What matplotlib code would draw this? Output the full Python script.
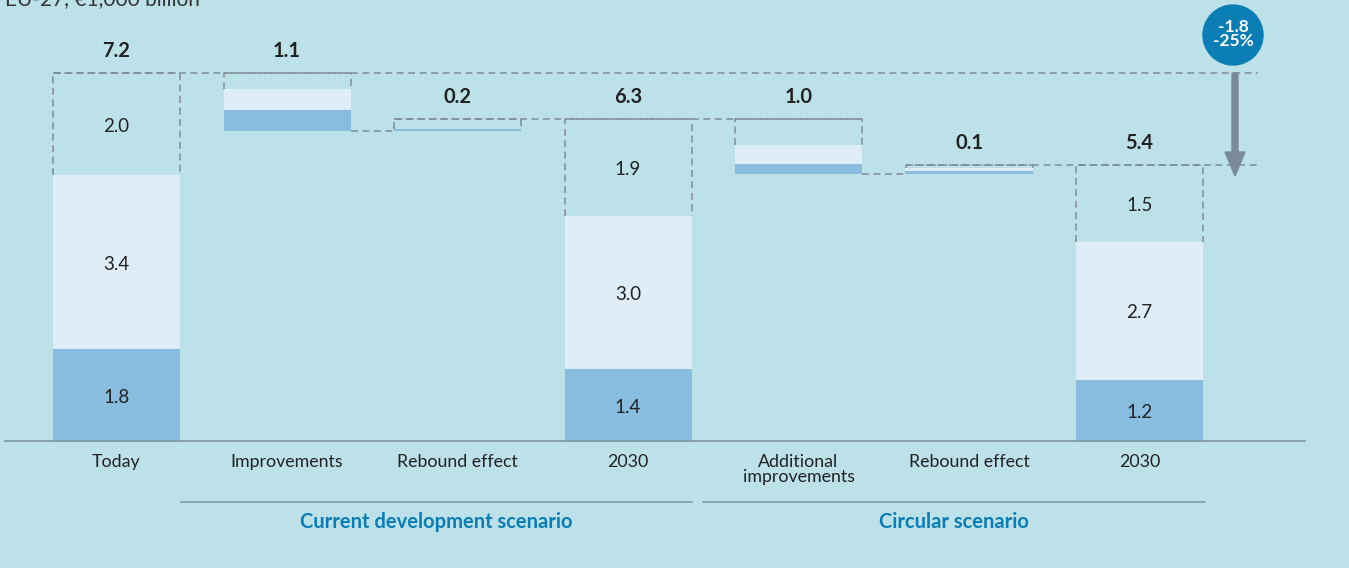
import matplotlib
matplotlib.use("Agg")
import matplotlib.pyplot as plt
from matplotlib import patches

# ---- data ----
categories = ["Today", "Improvements", "Rebound effect", "2030",
              "Additional\nimprovements", "Rebound effect", "2030"]
kinds = ["total", "down", "up", "total", "down", "up", "total"]
# segments: dark, light, dashed (other)
dark_vals   = [1.8, 0.41, 0.04, 1.4, 0.21, 0.06, 1.2]
light_vals  = [3.4, 0.41, 0.0,  3.0, 0.37, 0.06, 2.7]
other_vals  = [2.0, 0.31, 0.19, 1.9, 0.50, 0.06, 1.5]
seg_labels = [["1.8", "3.4", "2.0"], None, None, ["1.4", "3.0", "1.9"],
              None, None, ["1.2", "2.7", "1.5"]]
total_labels = ["7.2", "1.1", "0.2", "6.3", "1.0", "0.1", "5.4"]
groups = ["Current development scenario", "Circular scenario"]
change_label = "-1.8\n-25%"
unit_title = "EU-27, €1,000 billion"

# ---- style ----
BG = "#bce1e9"
DARK = "#88bddf"
LIGHT = "#deedf8"
DASH = "#7f8d95"
BLUE = "#0a7db5"
TXT = "#222222"
plt.rcParams['font.family'] = ['Lato', 'DejaVu Sans']

W, H = 1349, 568
fig = plt.figure(figsize=(W / 100, H / 100), dpi=100, facecolor=BG)
ax = fig.add_axes([0, 0, 1, 1])
ax.set_facecolor(BG)
x0px, dxpx = 116.5, 170.5
y0px, sc = 441, 51.1
ax.set_xlim(-x0px / dxpx, (W - x0px) / dxpx)
ax.set_ylim(-(H - y0px) / sc, y0px / sc)
ax.axis("off")

bw = 127 / dxpx
hw = bw / 2
dash_kw = dict(color=DASH, lw=1.1, ls=(0, (4.5, 3)))

level = 0.0
bottoms = []
tops = []
for i, k in enumerate(kinds):
    d, l, o = dark_vals[i], light_vals[i], other_vals[i]
    tot = d + l + o
    if k == "total":
        b = 0.0
        level = tot
    elif k == "down":
        b = level - tot
        level = b
    else:
        b = level
        level = b + tot
    bottoms.append(b)
    tops.append(b + tot)
    yb = b + d + l
    yt = b + tot
    ax.plot([i - hw, i - hw, i + hw, i + hw], [yb, yt, yt, yb], **dash_kw, zorder=2)
    ax.bar(i, d, bw, bottom=b, color=DARK, zorder=3)
    if l > 0:
        ax.bar(i, l, bw, bottom=b + d, color=LIGHT, zorder=3)
    if seg_labels[i]:
        for val, lo, hi in zip(seg_labels[i], [b, b + d, b + d + l], [b + d, b + d + l, yt]):
            ax.text(i, (lo + hi) / 2 - 2 / sc, val, ha="center", va="center",
                    fontsize=13.5, color=TXT, zorder=4)
    ax.text(i, yt + 22 / sc, total_labels[i], ha="center", va="center", fontsize=14.5,
            fontweight="bold", color=TXT, zorder=4)

# horizontal connectors
xa = (1258 - x0px) / dxpx
ax.plot([0 - hw, xa], [tops[0], tops[0]], **dash_kw, zorder=2)
ax.plot([2 - hw, 4 + hw], [tops[3], tops[3]], **dash_kw, zorder=2)
ax.plot([5 - hw, xa], [tops[6], tops[6]], **dash_kw, zorder=2)
ax.plot([1 + hw, 2 - hw], [bottoms[1], bottoms[1]], **dash_kw, zorder=2)
ax.plot([4 + hw, 5 - hw], [bottoms[4], bottoms[4]], **dash_kw, zorder=2)

# baseline
ax.plot([(5 - x0px) / dxpx, (1305 - x0px) / dxpx], [0, 0], color="#7d95a0", lw=1.2, zorder=5)

# category labels
for i, c in enumerate(categories):
    ax.text(i, -13 / sc, c, ha="center", va="top", fontsize=12.8, color=TXT, linespacing=0.95)

# group lines and labels
gy = -(502 - y0px) / sc
ax.plot([(181 - x0px) / dxpx, (692 - x0px) / dxpx], [gy, gy], color="#7d95a0", lw=1.1)
ax.plot([(703 - x0px) / dxpx, (1205 - x0px) / dxpx], [gy, gy], color="#7d95a0", lw=1.1)
ly = -(522 - y0px) / sc
ax.text(((181 + 692) / 2 - x0px) / dxpx, ly, groups[0], ha="center", va="center",
        fontsize=14.5, fontweight="bold", color=BLUE)
ax.text(((703 + 1205) / 2 - x0px) / dxpx, ly, groups[1], ha="center", va="center",
        fontsize=14.5, fontweight="bold", color=BLUE)

# arrow
axx = (1235 - x0px) / dxpx
y_start = (y0px - 73) / sc
y_tip = (y0px - 176) / sc
arr = patches.FancyArrow(axx, y_start, 0, y_tip - y_start, width=6 / dxpx,
                         head_width=20 / dxpx, head_length=24 / sc,
                         length_includes_head=True, color="#7a8a96", zorder=6)
ax.add_patch(arr)

# circle badge
cx, cy = (1233 - x0px) / dxpx, (y0px - 35) / sc
ax.add_patch(patches.Ellipse((cx, cy), 60 / dxpx, 60 / sc, color=BLUE, zorder=7))
ax.text(cx, cy + 1 / sc, change_label, ha="center", va="center", color="white", fontsize=12.5,
        fontweight="bold", linespacing=0.85, zorder=8)

# title (cut off at top, as in the reference)
fig.text(5 / W, 1 - 5 / H, unit_title, ha="left", va="baseline", fontsize=15, color="#333333")

fig.savefig("out.png", dpi=100, facecolor=BG)
